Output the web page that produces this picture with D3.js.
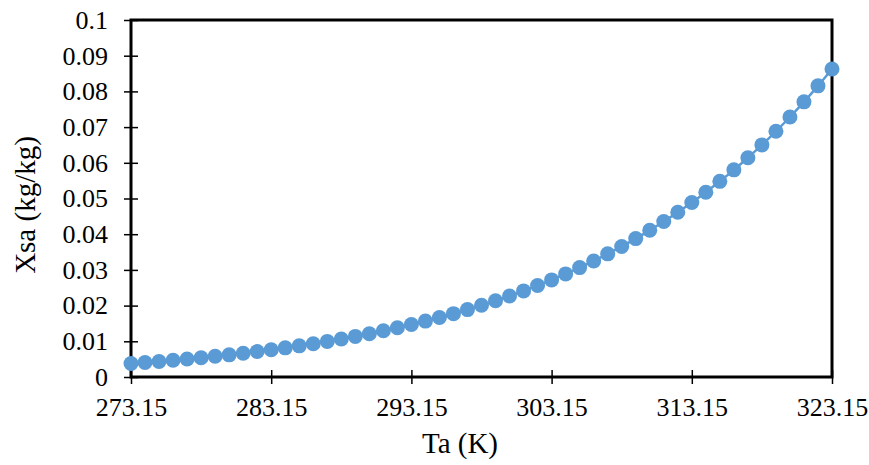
<!DOCTYPE html>
<html>
<head>
<meta charset="utf-8">
<script src="https://cdn.jsdelivr.net/npm/d3@7"></script>
<style>
  html, body { margin: 0; padding: 0; background: #fff; }
  svg { display: block; }
</style>
</head>
<body>
<svg id="chart" width="869" height="465"></svg>
<script>
// Air temperature (K), one reading per kelvin
const temperatures = [
  273.15, 274.15, 275.15, 276.15, 277.15, 278.15, 279.15, 280.15, 281.15, 282.15,
  283.15, 284.15, 285.15, 286.15, 287.15, 288.15, 289.15, 290.15, 291.15, 292.15,
  293.15, 294.15, 295.15, 296.15, 297.15, 298.15, 299.15, 300.15, 301.15, 302.15,
  303.15, 304.15, 305.15, 306.15, 307.15, 308.15, 309.15, 310.15, 311.15, 312.15,
  313.15, 314.15, 315.15, 316.15, 317.15, 318.15, 319.15, 320.15, 321.15, 322.15,
  323.15
];

// Saturation humidity ratio Xsa (kg/kg)
const xsa = [
  0.00378, 0.00406, 0.00436, 0.00469, 0.00503, 0.00540, 0.00580, 0.00621, 0.00666, 0.00713,
  0.00763, 0.00817, 0.00873, 0.00933, 0.00997, 0.01065, 0.01137, 0.01213, 0.01294, 0.01379,
  0.01470, 0.01566, 0.01667, 0.01774, 0.01888, 0.02008, 0.02135, 0.02270, 0.02412, 0.02562,
  0.02720, 0.02888, 0.03065, 0.03251, 0.03449, 0.03657, 0.03877, 0.04109, 0.04355, 0.04614,
  0.04887, 0.05176, 0.05481, 0.05803, 0.06143, 0.06502, 0.06882, 0.07283, 0.07707, 0.08155,
  0.08629
];

// Axis ticks
const xTicks = [273.15, 283.15, 293.15, 303.15, 313.15, 323.15];
const xTickLabels = ["273.15", "283.15", "293.15", "303.15", "313.15", "323.15"];
const yTicks = [0, 0.01, 0.02, 0.03, 0.04, 0.05, 0.06, 0.07, 0.08, 0.09, 0.1];
const yTickLabels = ["0", "0.01", "0.02", "0.03", "0.04", "0.05", "0.06", "0.07", "0.08", "0.09", "0.1"];

const xTitle = "Ta (K)";
const yTitle = "Xsa (kg/kg)";

const FONT = "Liberation Serif";

const svg = d3.select("#chart");
const margin = { left: 131, right: 37, top: 20, bottom: 88 };
const W = 869, H = 465;
const plotW = W - margin.left - margin.right;
const plotH = H - margin.top - margin.bottom;

const x = d3.scaleLinear().domain([273.15, 323.15]).range([0, plotW]);
const y = d3.scaleLinear().domain([0, 0.1]).range([plotH, 0]);

const g = svg.append("g").attr("transform", `translate(${margin.left},${margin.top})`);

// Plot frame
g.append("rect")
  .attr("x", 0).attr("y", 0)
  .attr("width", plotW).attr("height", plotH)
  .attr("fill", "none")
  .attr("stroke", "#000")
  .attr("stroke-width", 3);

// Y axis: ticks cross the frame line
const yAxis = d3.axisLeft(y)
  .tickValues(yTicks)
  .tickFormat((d, i) => yTickLabels[i])
  .tickSize(7)
  .tickPadding(16);
const yg = g.append("g").call(yAxis).attr("font-family", null).attr("font-size", null);
yg.select(".domain").remove();
yg.selectAll(".tick line").attr("x1", 7).attr("x2", -7).attr("stroke-width", 1.5);
yg.selectAll(".tick text")
  .style("font-family", FONT)
  .style("font-size", "26px")
  .attr("fill", "#000");

// X axis
const xAxis = d3.axisBottom(x)
  .tickValues(xTicks)
  .tickFormat((d, i) => xTickLabels[i])
  .tickSize(7)
  .tickPadding(14);
const xg = g.append("g").attr("transform", `translate(0,${plotH})`).call(xAxis)
  .attr("font-family", null).attr("font-size", null);
xg.select(".domain").remove();
xg.selectAll(".tick line").attr("y1", -7).attr("y2", 7).attr("stroke-width", 1.5);
xg.selectAll(".tick text")
  .style("font-family", FONT)
  .style("font-size", "26px")
  .attr("fill", "#000");

// Axis titles
svg.append("text")
  .attr("x", 460).attr("y", 453)
  .attr("text-anchor", "middle")
  .style("font-family", FONT)
  .style("font-size", "29px")
  .attr("fill", "#000")
  .text(xTitle);

svg.append("text")
  .attr("transform", "translate(35,205) rotate(-90)")
  .attr("text-anchor", "middle")
  .style("font-family", FONT)
  .style("font-size", "29px")
  .attr("fill", "#000")
  .text(yTitle);

// Series: smoothed line with circular markers
const data = temperatures.map((t, i) => ({ t, v: xsa[i] }));
const color = "#5B9BD5";

g.append("path")
  .datum(data)
  .attr("fill", "none")
  .attr("stroke", color)
  .attr("stroke-width", 2.5)
  .attr("d", d3.line().x(d => x(d.t)).y(d => y(d.v)).curve(d3.curveMonotoneX));

g.selectAll("circle.pt")
  .data(data)
  .join("circle")
  .attr("class", "pt")
  .attr("cx", d => x(d.t))
  .attr("cy", d => y(d.v))
  .attr("r", 7.5)
  .attr("fill", color);
</script>
</body>
</html>
